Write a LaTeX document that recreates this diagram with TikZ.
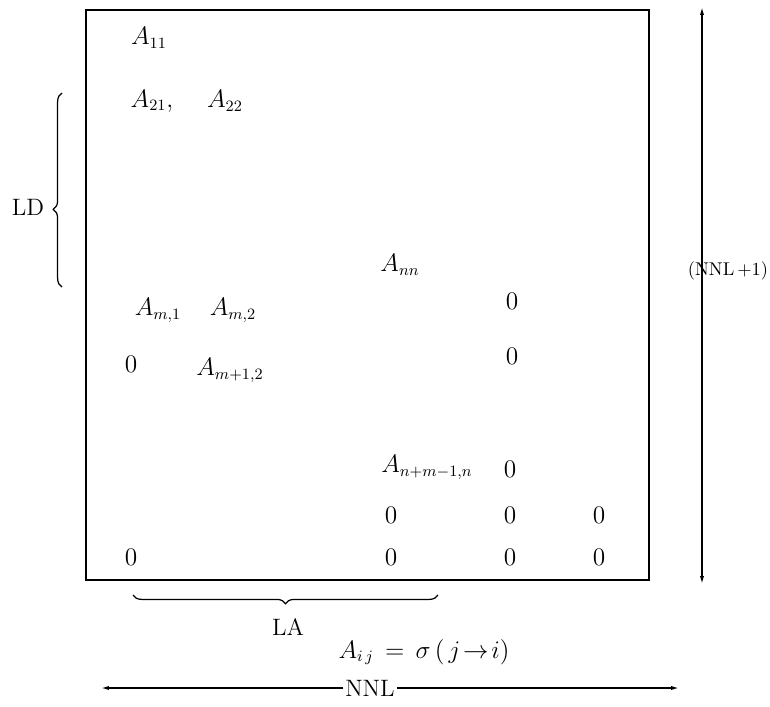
\documentclass[tikz,border=0pt]{standalone}
\usetikzlibrary{arrows.meta,decorations.pathreplacing}

\begin{document}
\begin{tikzpicture}[
    x=0.02cm,
    y=-0.02cm,
    font=\fontsize{13.5}{16}\selectfont,
    frame/.style={draw=black, line width=1.1pt},
    entry/.style={inner sep=1pt},
    dimarrow/.style={draw=black, line width=0.8pt,
                     {Latex[length=4.5pt,width=2.4pt]}-{Latex[length=4.5pt,width=2.4pt]}},
    halfarrow/.style={draw=black, line width=0.8pt,
                      -{Latex[length=4.5pt,width=2.4pt]}},
    bracket/.style={draw=black, line width=0.7pt,
                    decorate, decoration={brace, amplitude=5pt}}
]
\useasboundingbox (0,0) rectangle (770,706);

% Outer frame of the connection matrix.
\draw[frame] (86,10) rectangle (649,580);

% Non-zero band entries.
\node[entry] (a11) at (149,38) {$A_{11}$};
\node[entry] (a21) at (152,101) {$A_{21},$};
\node[entry] (a22) at (225,101) {$A_{22}$};
\node[entry] (ann) at (400,265) {$A_{nn}$};
\node[entry] (am1) at (158,310) {$A_{m,1}$};
\node[entry] (am2) at (233,310) {$A_{m,2}$};
\node[entry] (amp) at (230,370) {$A_{m+1,2}$};
\node[entry] (anm) at (427,467) {$A_{n+m-1,n}$};

% Zero blocks.
\foreach \x/\y/\k in {512/301/1,131/364/2,512/356/3,510/469/4,
                      391/515/5,510/515/6,599/515/7,
                      131/557/8,391/557/9,510/557/10,599/557/11} {
    \node[entry] (z\k) at (\x,\y) {$0$};
}

% Band depth on the left.
\coordinate (ldtop) at (62,93);
\coordinate (ldbot) at (62,287);
\draw[bracket, decoration={aspect=0.4}] (ldbot) -- (ldtop);
\node (ld) at (28,207) {LD};

% Band width below the frame.
\coordinate (lal) at (133,595);
\coordinate (lar) at (438,595);
\draw[bracket] (lar) -- (lal);
\node (la) at (288,627) {LA};
\node (rule) at (424,652) {$A_{i\,j}\,=\,\sigma\,(\,j\!\to\! i)$};

% Overall size of the matrix.
\coordinate (vtop) at (702,7);
\coordinate (vbot) at (702,584);
\draw[dimarrow] (vtop) -- (vbot);
\node[font=\fontsize{10.5}{12}\selectfont, inner sep=0pt]
      (rows) at (728,271) {(NNL\,+1)};

\coordinate (hleft) at (101,688);
\coordinate (hright) at (679,688);
\node[inner sep=1pt] (cols) at (370,688) {NNL};
\draw[halfarrow] (cols) -- (hleft);
\draw[halfarrow] (cols) -- (hright);
\end{tikzpicture}
\end{document}
